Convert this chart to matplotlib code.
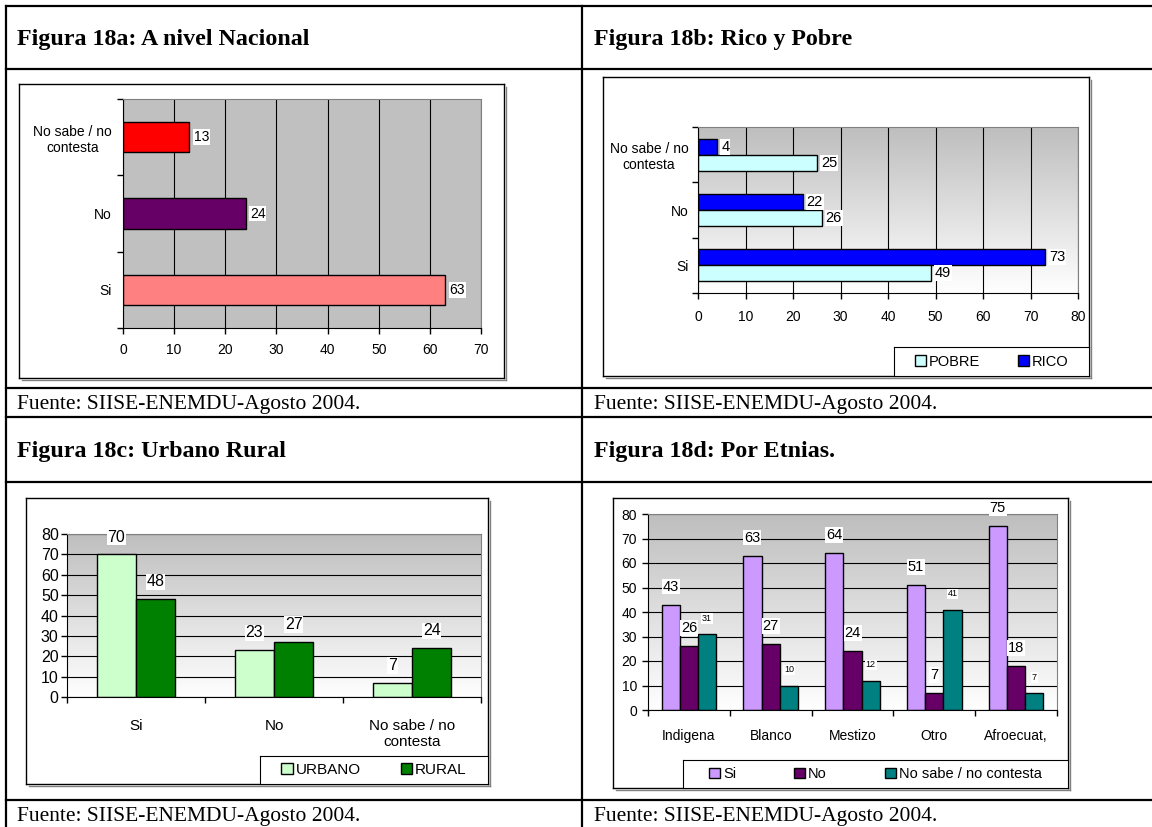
import matplotlib.pyplot as plt
import numpy as np
from matplotlib.patches import Patch
from matplotlib.lines import Line2D
from matplotlib.colors import LinearSegmentedColormap

W, H = 1152, 827

# Datos de las cuatro figuras
categorias = ['Si', 'No', 'No sabe / no\ncontesta']
nacional = [63, 24, 13]
pobre = [49, 26, 25]
rico = [73, 22, 4]
urbano = [70, 23, 7]
rural = [48, 27, 24]
etnias = ['Indigena', 'Blanco', 'Mestizo', 'Otro', 'Afroecuat,']
etnia_si = [43, 63, 64, 51, 75]
etnia_no = [26, 27, 24, 7, 18]
etnia_ns = [31, 10, 12, 41, 7]

titulos = ['Figura 18a: A nivel Nacional', 'Figura 18b: Rico y Pobre',
           'Figura 18c: Urbano Rural', 'Figura 18d: Por Etnias.']
fuente = 'Fuente: SIISE-ENEMDU-Agosto 2004.'

SANS = ['Liberation Sans', 'DejaVu Sans']
NARROW = ['Liberation Sans Narrow', 'Liberation Sans', 'DejaVu Sans']
SERIF = ['Liberation Serif', 'DejaVu Serif']

fig = plt.figure(figsize=(W / 100, H / 100), dpi=100)


# pixeles (desde arriba a la izquierda) -> coordenadas de figura
def fx(x):
    return x / W


def fy(y):
    return 1 - y / H


def rect(x0, y0, x1, y1):
    return [fx(x0), fy(y1), (x1 - x0) / W, (y1 - y0) / H]


# Lineas de la tabla
for y in [6, 69, 388, 417, 482, 800]:
    fig.add_artist(Line2D([fx(6), 1], [fy(y), fy(y)], color='black', lw=1.6))
for x in [6, 582]:
    fig.add_artist(Line2D([fx(x), fx(x)], [fy(6), 0], color='black', lw=1.6))

for (x, y), t in zip([(17, 39), (594, 39), (17, 452), (594, 452)], titulos):
    fig.text(fx(x), fy(y), t, fontsize=17.3, fontweight='bold', family=SERIF, va='center')
for (x, y) in [(17, 404), (594, 404), (17, 816), (594, 816)]:
    fig.text(fx(x), fy(y), fuente, fontsize=15.5, family=SERIF, va='center')


def caja(x0, y0, x1, y1):
    b = fig.add_axes(rect(x0, y0, x1, y1), zorder=-5)
    b.set_xticks([])
    b.set_yticks([])
    for s in b.spines.values():
        s.set_linewidth(1)
    # sombra
    fig.add_artist(Line2D([fx(x1 + 2), fx(x1 + 2)], [fy(y0 + 3), fy(y1 + 2)], color='#808080', lw=1))
    fig.add_artist(Line2D([fx(x0 + 3), fx(x1 + 2)], [fy(y1 + 2), fy(y1 + 2)], color='#808080', lw=1))


fondo = LinearSegmentedColormap.from_list('fondo', ['#BEBEBE', '#FFFFFF'])


def degradado(ax):
    ax.imshow(np.linspace(0, 1, 256).reshape(-1, 1), cmap=fondo, aspect='auto',
              extent=[0, 1, 0, 1], transform=ax.transAxes, zorder=0)


def bordes(ax):
    ax.spines['top'].set_color('#808080')
    ax.spines['right'].set_color('#808080')
    ax.set_axisbelow(True)


def leyenda(r, handles, labels, fs, family, cs):
    lax = fig.add_axes(r)
    lax.set_xticks([])
    lax.set_yticks([])
    lax.legend(handles, labels, loc='center', ncol=len(handles), frameon=False,
               prop=dict(family=family, size=fs), handlelength=0.75, handleheight=0.75,
               handletextpad=0.2, columnspacing=cs, borderaxespad=0)


etiqueta = dict(fc='white', ec='none', pad=0.6)

# ---- Figura 18a ----
caja(19, 84, 504, 378)
ax = fig.add_axes(rect(123, 99, 481, 328))
ax.set_facecolor('#C0C0C0')
pos = np.arange(len(categorias))
barras = ax.barh(pos, nacional, height=0.4, color=['#FF8080', '#660066', '#FF0000'],
                 edgecolor='black', lw=1)
ax.set_xlim(0, 70)
ax.set_ylim(-0.5, 2.5)
ax.set_xticks(range(0, 71, 10))
ax.set_yticks([-0.5, 0.5, 1.5, 2.5])
ax.set_yticklabels([])
ax.set_yticks(pos, minor=True)
ax.set_yticklabels(categorias, minor=True, multialignment='center')
ax.tick_params(axis='y', which='minor', length=0, pad=8)
ax.tick_params(which='major', length=4, width=1, pad=7)
for lbl in ax.get_xticklabels() + ax.get_yticklabels(minor=True):
    lbl.set_family(SANS)
    lbl.set_fontsize(10)
ax.grid(axis='x', color='black', lw=0.8)
bordes(ax)
ax.bar_label(barras, padding=3, fontsize=10, family=SANS, bbox=etiqueta)

# ---- Figura 18b ----
caja(603, 77, 1089, 376)
ax = fig.add_axes(rect(698, 127, 1078, 293))
degradado(ax)
h = 0.29
fs_b = 10
b_rico = ax.barh(pos + h / 2, rico, h, color='#0000FF', edgecolor='black', lw=1)
b_pobre = ax.barh(pos - h / 2, pobre, h, color='#CCFFFF', edgecolor='black', lw=1)
ax.set_xlim(0, 80)
ax.set_ylim(-0.5, 2.5)
ax.set_xticks(range(0, 81, 10))
ax.set_yticks([-0.5, 0.5, 1.5, 2.5])
ax.set_yticklabels([])
ax.set_yticks(pos, minor=True)
ax.set_yticklabels(categorias, minor=True, multialignment='center')
ax.tick_params(axis='y', which='minor', length=0, pad=7)
ax.tick_params(which='major', length=4, width=1, pad=8)
for lbl in ax.get_xticklabels() + ax.get_yticklabels(minor=True):
    lbl.set_family(NARROW)
    lbl.set_fontsize(fs_b)
ax.grid(axis='x', color='black', lw=0.8)
bordes(ax)
ax.bar_label(b_rico, padding=3, fontsize=fs_b + 0.5, family=NARROW, bbox=etiqueta)
ax.bar_label(b_pobre, padding=3, fontsize=fs_b + 0.5, family=NARROW, bbox=etiqueta)
leyenda(rect(894, 347, 1089, 376),
        [Patch(fc='#CCFFFF', ec='black'), Patch(fc='#0000FF', ec='black')],
        ['POBRE', 'RICO'], fs_b + 0.5, NARROW, 2.6)

# ---- Figura 18c ----
caja(26, 498, 488, 784)
ax = fig.add_axes(rect(67, 534, 481, 697))
degradado(ax)
w = 0.285
fs_c = 11
b_urb = ax.bar(pos - w / 2, urbano, w, color='#CCFFCC', edgecolor='black', lw=1)
b_rur = ax.bar(pos + w / 2, rural, w, color='#008000', edgecolor='black', lw=1)
ax.set_ylim(0, 80)
ax.set_xlim(-0.5, 2.5)
ax.set_yticks(range(0, 81, 10))
ax.set_xticks([-0.5, 0.5, 1.5, 2.5])
ax.set_xticklabels([])
ax.set_xticks(pos, minor=True)
ax.set_xticklabels(categorias, minor=True, multialignment='center')
ax.tick_params(axis='x', which='minor', length=0, pad=16)
ax.tick_params(which='major', length=4, width=1, pad=2)
for lbl in ax.get_yticklabels() + ax.get_xticklabels(minor=True):
    lbl.set_family(NARROW)
    lbl.set_fontsize(fs_c + 0.5)
for lbl in ax.get_xticklabels(minor=True):
    lbl.set_fontsize(fs_c)
ax.grid(axis='y', color='black', lw=0.8)
bordes(ax)
ax.bar_label(b_urb, padding=7, fontsize=fs_c + 0.5, family=NARROW, bbox=etiqueta)
ax.bar_label(b_rur, padding=7, fontsize=fs_c + 0.5, family=NARROW, bbox=etiqueta)
leyenda(rect(260, 756, 488, 784),
        [Patch(fc='#CCFFCC', ec='black'), Patch(fc='#008000', ec='black')],
        ['URBANO', 'RURAL'], fs_c, NARROW, 2.6)

# ---- Figura 18d ----
caja(613, 498, 1068, 788)
ax = fig.add_axes(rect(648, 514, 1057, 710))
degradado(ax)
pe = np.arange(len(etnias))
w = 0.223
b_si = ax.bar(pe - w, etnia_si, w, color='#CC99FF', edgecolor='black', lw=1)
b_no = ax.bar(pe, etnia_no, w, color='#660066', edgecolor='black', lw=1)
b_ns = ax.bar(pe + w, etnia_ns, w, color='#008080', edgecolor='black', lw=1)
ax.set_ylim(0, 80)
ax.set_xlim(-0.5, 4.5)
ax.set_yticks(range(0, 81, 10))
ax.set_xticks(np.arange(-0.5, 5, 1))
ax.set_xticklabels([])
ax.set_xticks(pe, minor=True)
ax.set_xticklabels(etnias, minor=True)
ax.tick_params(axis='x', which='minor', length=0, pad=14)
ax.tick_params(which='major', length=4, width=1, pad=4)
for lbl in ax.get_yticklabels() + ax.get_xticklabels(minor=True):
    lbl.set_family(SANS)
    lbl.set_fontsize(10)
ax.grid(axis='y', color='black', lw=0.8)
bordes(ax)
ax.bar_label(b_si, padding=8, fontsize=10.5, family=SANS, bbox=etiqueta)
ax.bar_label(b_no, padding=8, fontsize=10.5, family=SANS, bbox=etiqueta)
ax.bar_label(b_ns, padding=8, fontsize=6.5, family=SANS, bbox=etiqueta)
leyenda(rect(683, 760, 1068, 788),
        [Patch(fc='#CC99FF', ec='black'), Patch(fc='#660066', ec='black'),
         Patch(fc='#008080', ec='black')],
        ['Si', 'No', 'No sabe / no contesta'], 10.5, SANS, 4.0)

fig.savefig('out.png', dpi=100)
